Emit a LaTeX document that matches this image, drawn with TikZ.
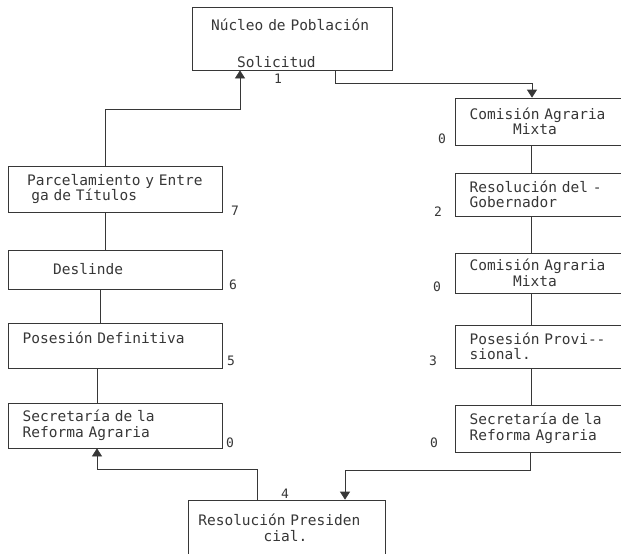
\documentclass[tikz,border=0pt]{standalone}
\usepackage{fontspec}
\setmonofont{DejaVu Sans Mono}
\usepackage{tikz}
\usetikzlibrary{arrows.meta}
\definecolor{ink}			{RGB}{55,55,55}
\newlength{\chw}
\setlength{\chw}{8.7pt}
\newcommand{\chars}[1]{\hspace*{#1\chw}}

\begin{document}
\begin{tikzpicture}[x = 1pt, y = -1pt,
		box/.style   = {draw = ink,
			rectangle,
			align          = left,
			inner xsep     = 6pt,
			inner ysep     = 2pt,
			font = \ttfamily\fontsize{14.5}{15.5}\selectfont\color{ink},
			line width     = 0.7pt},
		boxR/.style  = {box,
			text width     = 155pt},
		boxL/.style  = {box,
			text width     = 202pt},
		num/.style   = {inner sep = 0pt,
			font = \ttfamily\fontsize{13}{13}\selectfont\color{ink}},
		link/.style  = {draw = ink, line width = 0.7pt},
		tip/.style   = {link, -{Triangle[width=10pt, length=8pt]}}]
		
		\useasboundingbox[fill = white] (0,0) rectangle (621,554);
		
		\node[box, text width = 188pt, minimum height = 63pt] (Nucleo) at (292,38.5)
		{\mbox{} \\[5.5pt]
			\chars{1.5}Núcleo de Población \\[21pt]
			\chars{4.5}Solicitud};
		
		% right column
		\node[boxR, minimum height = 47pt] (ComA) at (538.5,121.5)
		{\chars{1}Comisión Agraria \\
			\chars{6}Mixta};
		
		\node[boxR, minimum height = 43pt] (ResG) at (538.5,194.5)
		{\chars{1}Resolución del - \\
			\chars{1}Gobernador};
		
		\node[boxR, minimum height = 40pt] (ComB) at (538.5,273)
		{\chars{1}Comisión Agraria \\
			\chars{6}Mixta};
		
		\node[boxR, minimum height = 43pt] (PosP) at (538.5,346.5)
		{\chars{1}Posesión Provi-- \\
			\chars{1}sional.};
		
		\node[boxR, minimum height = 47pt] (SecR) at (538.5,428.5)
		{\chars{1}Secretaría de la \\
			\chars{1}Reforma Agraria};
		
		\node[box, text width = 185pt, minimum height = 56pt] (ResP) at (286.5,528)
		{\chars{0.5}Resolución Presiden \\
			\chars{8}cial.};
		
		% left column
		\node[boxL, minimum height = 45pt] (SecL) at (115,425.5)
		{\chars{1}Secretaría de la \\
			\chars{1}Reforma Agraria};
		
		\node[boxL, minimum height = 45pt] (PosD) at (115,345.5)
		{\chars{1}Posesión Definitiva \\ \mbox{}};
		
		\node[boxL, minimum height = 39pt] (Desl) at (115,269.5)
		{\chars{4.5}Deslinde};
		
		\node[boxL, minimum height = 46pt] (Parc) at (115,189)
		{\chars{1.5}Parcelamiento y Entre \\
			\chars{2}ga de Títulos};
		
		% step numbers
		\node[num] (n1)  at (278,79)  {1};
		\node[num] (nCA) at (442,139) {0};
		\node[num] (nRG) at (438,212) {2};
		\node[num] (nCB) at (437,287) {0};
		\node[num] (nPP) at (433,361) {3};
		\node[num] (nSR) at (434,443) {0};
		\node[num] (n4)  at (285,494) {4};
		\node[num] (nSL) at (230,443) {0};
		\node[num] (nPD) at (231,361) {5};
		\node[num] (nDe) at (233,285) {6};
		\node[num] (nPa) at (235,211) {7};
		
		\path[link] ([xshift=-7.5pt]ComA.south) edge ([xshift=-7.5pt]ResG.north);
		\path[link] ([xshift=-7.5pt]ResG.south) edge ([xshift=-7.5pt]ComB.north);
		\path[link] ([xshift=-7.5pt]ComB.south) edge ([xshift=-7.5pt]PosP.north);
		\path[link] ([xshift=-7.5pt]PosP.south) edge ([xshift=-7.5pt]SecR.north);
		
		\path[link] ([xshift=-10pt]Parc.south) edge ([xshift=-10pt]Desl.north);
		\path[link] ([xshift=-15pt]Desl.south) edge ([xshift=-15pt]PosD.north);
		\path[link] ([xshift=-18pt]PosD.south) edge ([xshift=-18pt]SecL.north);
		
		\draw[tip] ([xshift=43pt]Nucleo.south) -- ++(0,13) -| ([xshift=-6.5pt]ComA.north);
		\draw[tip] ([xshift=-8.5pt]SecR.south) -- ++(0,18) -| ([xshift=58.5pt]ResP.north);
		\draw[tip] ([xshift=-29.5pt]ResP.north) -- ++(0,-30) -| ([xshift=-18pt]SecL.south);
		\draw[tip] ([xshift=-10pt]Parc.north) -- ++(0,-56) -| ([xshift=-52pt]Nucleo.south);
		
	\end{tikzpicture}
\end{document}
